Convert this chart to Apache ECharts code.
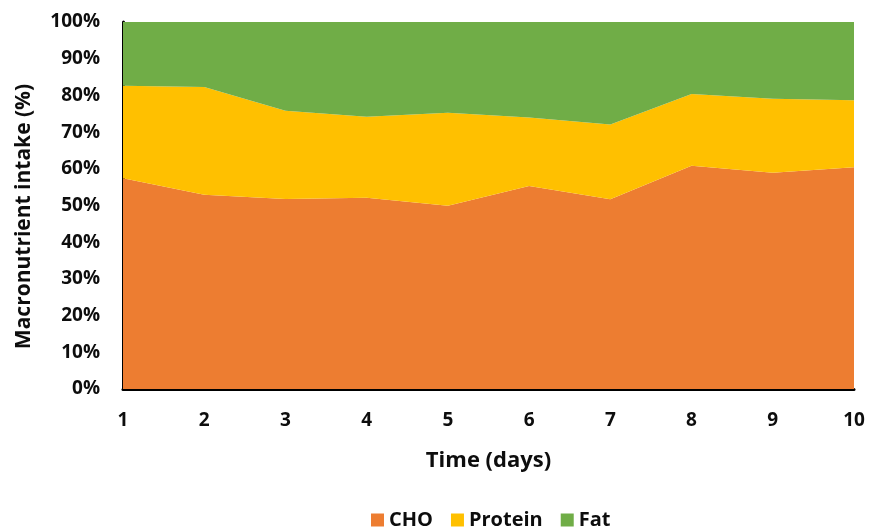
<!DOCTYPE html>
<html><head><meta charset="utf-8">
<script src="https://cdn.jsdelivr.net/npm/echarts@6/dist/echarts.min.js"></script>
<style>html,body{margin:0;padding:0;background:#fff}#c{width:871px;height:529px}</style>
</head><body><div id="c"></div>
<script>
const days = ['1','2','3','4','5','6','7','8','9','10'];
const cho = [57.4, 52.9, 51.8, 52.1, 49.9, 55.3, 51.7, 60.8, 58.9, 60.4];
const protein = [25.2, 29.4, 24.0, 22.1, 25.4, 18.7, 20.4, 19.6, 20.2, 18.3];
const fat = [17.4, 17.7, 24.2, 25.8, 24.7, 26.0, 27.9, 19.6, 20.9, 21.3];
const yTicks = ['0%','10%','20%','30%','40%','50%','60%','70%','80%','90%','100%'];

const FONT = '"Open Sans", sans-serif';
const TXT = '#0d0d0d';
const chart = echarts.init(document.getElementById('c'), null, {renderer:'canvas'});
function mk(name, data, color){
  return {name, type:'line', stack:'all', data, symbol:'none', smooth:false,
    lineStyle:{width:0}, areaStyle:{color, opacity:1}, itemStyle:{color}};
}
chart.setOption({
  animation:false,
  grid:{left:123, right:17, top:22, bottom:140},
  legend:{top:505, left:366, itemWidth:13, itemHeight:13, itemGap:18,
    icon:'rect',
    textStyle:{fontFamily:FONT, fontWeight:'bold', fontSize:20, color:TXT},
    data:['CHO','Protein','Fat']},
  xAxis:{type:'category', data:days, boundaryGap:false,
    axisLine:{lineStyle:{color:'#000', width:3}}, axisTick:{show:false},
    axisLabel:{fontFamily:FONT, fontWeight:'bold', fontSize:19, color:TXT, margin:22},
    name:'Time (days)', nameLocation:'middle', nameGap:61,
    nameTextStyle:{fontFamily:FONT, fontWeight:'bold', fontSize:22, color:TXT}},
  yAxis:{type:'value', min:0, max:100, interval:10,
    axisLine:{show:true, lineStyle:{color:'#000', width:3}}, axisTick:{show:false},
    splitLine:{show:false},
    axisLabel:{fontFamily:FONT, fontWeight:'bold', fontSize:19, color:TXT, margin:23,
      formatter:(v)=>yTicks[Math.round(v/10)]},
    name:'Macronutrient intake (%)', nameLocation:'middle', nameGap:88, nameRotate:90,
    nameTextStyle:{fontFamily:FONT, fontWeight:'bold', fontSize:21, color:TXT, padding:[0,22,0,0]}},
  series:[mk('CHO',cho,'#ED7D31'), mk('Protein',protein,'#FFC000'), mk('Fat',fat,'#70AD47')]
});
</script></body></html>
